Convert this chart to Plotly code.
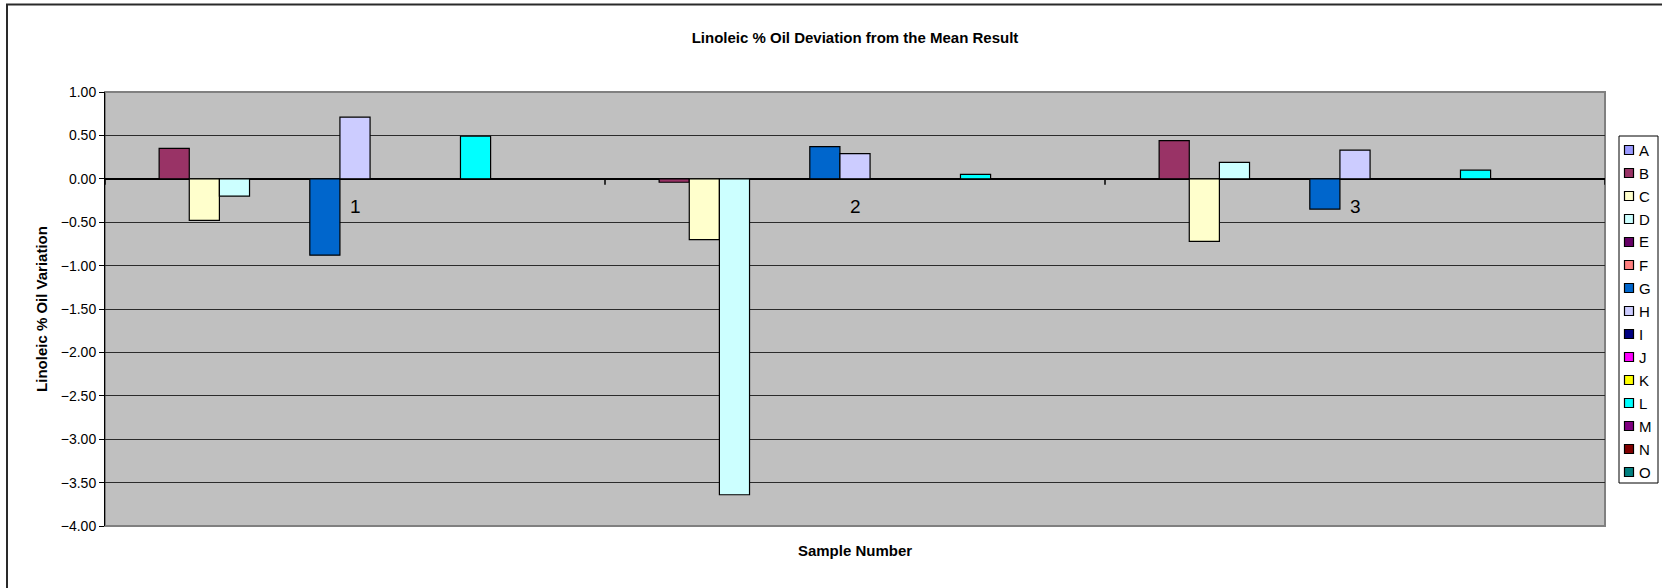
import plotly.graph_objects as go

# Deviation of each lab's linoleic % oil result from the mean, per sample
samples = [1, 2, 3]
sample_labels = ["1", "2", "3"]
series_names = ["A", "B", "C", "D", "E", "F", "G", "H", "I", "J", "K", "L", "M", "N", "O"]
series_colors = ["#9999FF", "#993366", "#FFFFCC", "#CCFFFF", "#660066", "#FF8080", "#0066CC",
                 "#CCCCFF", "#000080", "#FF00FF", "#FFFF00", "#00FFFF", "#800080", "#800000", "#008080"]

A = [None, None, None]
B = [0.35, -0.04, 0.44]
C = [-0.48, -0.70, -0.72]
D = [-0.20, -3.64, 0.19]
E = [None, None, None]
F = [None, None, None]
G = [-0.88, 0.37, -0.35]
H = [0.71, 0.29, 0.33]
I = [None, None, None]
J = [None, None, None]
K = [None, None, None]
L = [0.49, 0.05, 0.10]
M = [None, None, None]
N = [None, None, None]
O = [None, None, None]
series_values = [A, B, C, D, E, F, G, H, I, J, K, L, M, N, O]

y_ticks = [1.0, 0.5, 0.0, -0.5, -1.0, -1.5, -2.0, -2.5, -3.0, -3.5, -4.0]

W, HGT = 1662, 588
ML, MR, MT, MB = 105, 57, 92, 62
PW, PH = W - ML - MR, HGT - MT - MB
FONT = "Liberation Sans, Arial, sans-serif"


def px_x(px):
    return (px - ML) / PW


def px_y(py):
    return (HGT - MB - py) / PH


fig = go.Figure()
for name, color, vals in zip(series_names, series_colors, series_values):
    fig.add_trace(go.Bar(
        x=samples, y=vals, name=name,
        marker=dict(color=color, line=dict(color="#000000", width=1.2)),
        showlegend=False,
    ))

shapes = []
# outer chart frame
shapes.append(dict(type="rect", xref="paper", yref="paper",
                   x0=px_x(7), x1=px_x(1668), y0=px_y(4.5), y1=px_y(595),
                   line=dict(color="#2a2a2a", width=2), fillcolor="rgba(0,0,0,0)", layer="above"))
# plot area border
shapes.append(dict(type="rect", xref="paper", yref="paper", x0=0, x1=1, y0=0, y1=1,
                   line=dict(color="#808080", width=2), fillcolor="rgba(0,0,0,0)", layer="below"))
# category separators on the zero line
for xb in [0.5, 1.5, 2.5, 3.5]:
    shapes.append(dict(type="line", xref="x", yref="y", ysizemode="pixel", yanchor=0,
                       x0=xb, x1=xb, y0=0, y1=-6, line=dict(color="#000000", width=1.5)))

annotations = []
for s, lab in zip(samples, sample_labels):
    annotations.append(dict(x=s, y=0, xref="x", yref="y", text=lab, showarrow=False,
                            yanchor="middle", xanchor="center", yshift=-28,
                            font=dict(family=FONT, size=19, color="#000000")))

# legend box drawn alongside the plot
lg_left, lg_right, lg_top, row0, row_h = 1619, 1658, 136, 150, 23
shapes.append(dict(type="rect", xref="paper", yref="paper",
                   x0=px_x(lg_left), x1=px_x(lg_right),
                   y0=px_y(row0 + row_h * (len(series_names) - 1) + 11), y1=px_y(lg_top),
                   line=dict(color="#000000", width=1), fillcolor="#FFFFFF", layer="above"))
for i, (name, color) in enumerate(zip(series_names, series_colors)):
    cy = row0 + row_h * i
    shapes.append(dict(type="rect", xref="paper", yref="paper",
                       x0=px_x(1624.5), x1=px_x(1633.5), y0=px_y(cy + 4.5), y1=px_y(cy - 4.5),
                       line=dict(color="#000000", width=1.2), fillcolor=color, layer="above"))
    annotations.append(dict(x=px_x(1637), y=px_y(cy), xref="paper", yref="paper", text=name,
                            showarrow=False, xanchor="left", yanchor="middle",
                            font=dict(family=FONT, size=15, color="#000000")))

fig.update_layout(
    width=W, height=HGT,
    margin=dict(l=ML, r=MR, t=MT, b=MB, pad=0),
    paper_bgcolor="#FFFFFF", plot_bgcolor="#C0C0C0",
    barmode="group", bargap=0.096, bargroupgap=0,
    showlegend=False,
    title=dict(text="Linoleic % Oil Deviation from the Mean Result",
               x=0.5, xref="paper", xanchor="center",
               y=1 - 38 / HGT, yref="container", yanchor="middle",
               font=dict(family=FONT, size=15, color="#000000", weight="bold")),
    xaxis=dict(range=[0.5, 3.5], showticklabels=False, ticks="", showgrid=False,
               zeroline=False, showline=False, fixedrange=True,
               title=dict(text="Sample Number", standoff=19,
                          font=dict(family=FONT, size=15, color="#000000", weight="bold"))),
    yaxis=dict(range=[-4, 1], tickvals=y_ticks, tickformat=".2f",
               ticks="outside", ticklen=5, tickcolor="#000000", tickwidth=1,
               showline=True, linecolor="#000000", linewidth=1,
               showgrid=True, gridcolor="#2b2b2b", gridwidth=1,
               zeroline=True, zerolinecolor="#000000", zerolinewidth=1.5,
               tickfont=dict(family=FONT, size=14, color="#000000"),
               title=dict(text="Linoleic % Oil Variation", standoff=9,
                          font=dict(family=FONT, size=15, color="#000000", weight="bold"))),
    shapes=shapes, annotations=annotations,
)

fig.write_html("out.html")
